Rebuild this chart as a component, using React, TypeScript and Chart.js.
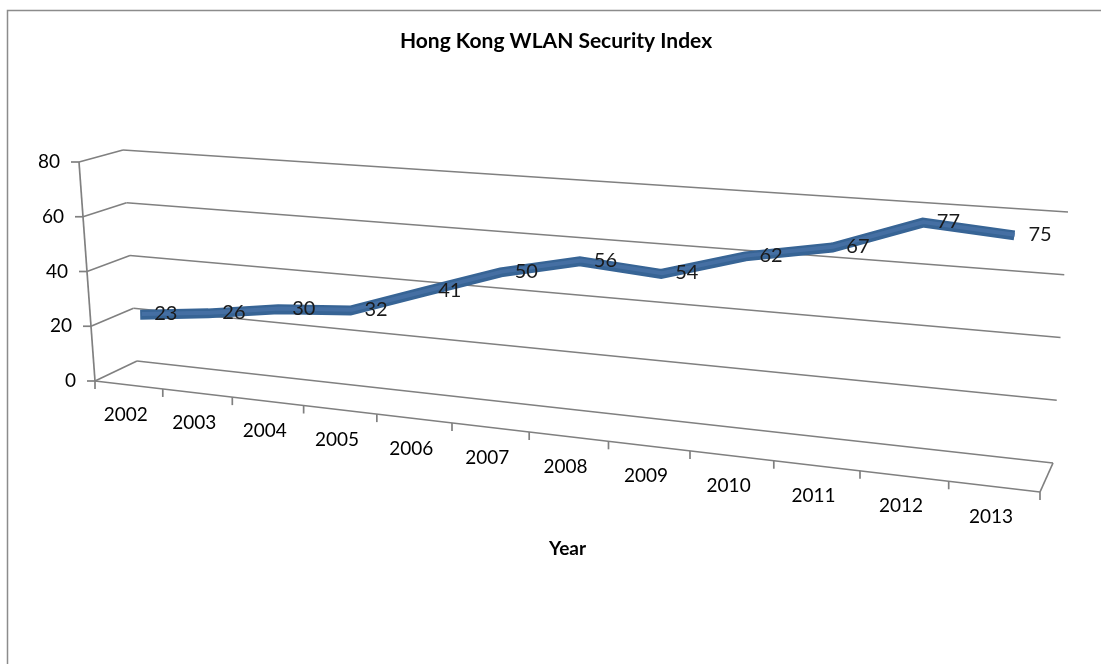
import React, { useEffect, useRef } from "react";
import { Chart, registerables } from "chart.js";

Chart.register(...registerables);

// ---- data ----
const YEARS = ["2002", "2003", "2004", "2005", "2006", "2007", "2008", "2009", "2010", "2011", "2012", "2013"];
const INDEX_VALUES = [23, 26, 30, 32, 41, 50, 56, 54, 62, 67, 77, 75];
const Y_TICKS = [0, 20, 40, 60, 80];
const TITLE = "Hong Kong WLAN Security Index";
const X_TITLE = "Year";

// ---- 3D box geometry (screen layout of the Excel-style 3D frame) ----
type Pt = [number, number];
const FRONT = { bl: [95, 381] as Pt, tl: [79, 162] as Pt, br: [1040, 492] as Pt, tr: [1059, 229] as Pt };
const BACK = { bl: [137, 361] as Pt, tl: [123, 150] as Pt, br: [1053, 463] as Pt, tr: [1068, 212] as Pt };
const FORESHORTEN = 0.85;
const GRID_COLOR = "#808080";
const FONT = "Lato, 'Open Sans', sans-serif";

const lerp2 = (a: Pt, b: Pt, t: number): Pt => [a[0] + (b[0] - a[0]) * t, a[1] + (b[1] - a[1]) * t];
const planePoint = (p: typeof FRONT, u: number, v: number): Pt => lerp2(lerp2(p.bl, p.br, u), lerp2(p.tl, p.tr, u), v);
const project = (u: number, v: number, d: number): Pt => {
  const w = (FORESHORTEN * u) / (1 - (1 - FORESHORTEN) * u);
  return lerp2(planePoint(FRONT, w, v), planePoint(BACK, w, v), d);
};

const box3d = {
  id: "box3d",
  afterDatasetsUpdate(chart: any) {
    const a = chart.chartArea;
    chart.data.datasets.forEach((ds: any, i: number) => {
      const meta = chart.getDatasetMeta(i);
      const depth = ds.depth ?? 0.4;
      meta.data.forEach((pt: any) => {
        const u = (pt.x - a.left) / (a.right - a.left);
        const v = (a.bottom - pt.y) / (a.bottom - a.top);
        const [x, y] = project(u, v, depth);
        pt.x = x;
        pt.y = y;
      });
    });
  },
  beforeDatasetsDraw(chart: any) {
    const ctx = chart.ctx as CanvasRenderingContext2D;
    const a = chart.chartArea;
    const xs = chart.scales.x;
    const ys = chart.scales.y;
    const vOf = (val: number) => (a.bottom - ys.getPixelForValue(val)) / (a.bottom - a.top);
    const uOf = (px: number) => (px - a.left) / (a.right - a.left);
    const seg = (p: Pt, q: Pt) => {
      ctx.beginPath();
      ctx.moveTo(p[0], p[1]);
      ctx.lineTo(q[0], q[1]);
      ctx.stroke();
    };
    ctx.save();
    ctx.strokeStyle = GRID_COLOR;
    ctx.lineWidth = 1.7;
    Y_TICKS.forEach((t) => {
      const v = vOf(t);
      seg(project(0, v, 1), project(1, v, 1));
      seg(project(0, v, 0), project(0, v, 1));
      const f = project(0, v, 0);
      seg([f[0] - 8, f[1]], f);
    });
    seg(project(0, 0, 0), project(0, 1, 0));
    seg(project(0, 0, 0), project(1, 0, 0));
    seg(project(1, 0, 0), project(1, 0, 1));
    for (let k = 0; k <= YEARS.length; k++) {
      const p = project(uOf(xs.getPixelForValue(k - 0.5)), 0, 0);
      seg(p, [p[0], p[1] + 8]);
    }
    ctx.fillStyle = "#000";
    ctx.font = `19px ${FONT}`;
    ctx.textAlign = "right";
    ctx.textBaseline = "middle";
    Y_TICKS.forEach((t) => {
      const f = project(0, vOf(t), 0);
      ctx.fillText(String(t), f[0] - 19, f[1]);
    });
    ctx.textAlign = "center";
    YEARS.forEach((lab, i) => {
      const p = project(uOf(xs.getPixelForValue(i)), 0, 0);
      ctx.fillText(lab, p[0] - 3, p[1] + 30);
    });
    const mid = lerp2(project(0, 0, 0), project(1, 0, 0), 0.5);
    ctx.font = `bold 19px ${FONT}`;
    ctx.fillText(X_TITLE, mid[0], mid[1] + 112);
    ctx.restore();
  },
  afterDatasetsDraw(chart: any) {
    const ctx = chart.ctx as CanvasRenderingContext2D;
    const meta = chart.getDatasetMeta(0);
    const values = chart.data.datasets[0].data as number[];
    ctx.save();
    ctx.fillStyle = "#1a1a1a";
    ctx.font = `20px ${FONT}`;
    ctx.textAlign = "left";
    ctx.textBaseline = "middle";
    meta.data.forEach((pt: any, i: number) => {
      ctx.fillText(String(values[i]), pt.x + 14, pt.y - 1);
    });
    ctx.restore();
  },
  afterDraw(chart: any) {
    const ctx = chart.ctx as CanvasRenderingContext2D;
    ctx.save();
    ctx.strokeStyle = "#8c8c8c";
    ctx.lineWidth = 1.5;
    ctx.beginPath();
    ctx.moveTo(7.5, chart.height);
    ctx.lineTo(7.5, 10.5);
    ctx.lineTo(chart.width, 10.5);
    ctx.stroke();
    ctx.restore();
  },
};

export default function App() {
  const canvasRef = useRef<HTMLCanvasElement | null>(null);

  useEffect(() => {
    if (!canvasRef.current) return;
    const chart = new Chart(canvasRef.current, {
      type: "line",
      data: {
        labels: YEARS,
        datasets: [
          {
            label: "Security Index",
            data: INDEX_VALUES,
            depth: 0.38,
            borderColor: "#376495",
            borderWidth: 10,
            borderJoinStyle: "miter",
            borderCapStyle: "butt",
            pointRadius: 0,
            pointHoverRadius: 0,
            tension: 0,
            fill: false,
            clip: false,
            order: 2,
          } as any,
          {
            label: "highlight",
            data: INDEX_VALUES,
            depth: 0.42,
            borderColor: "rgba(72,114,166,0.8)",
            borderWidth: 4,
            borderJoinStyle: "miter",
            borderCapStyle: "butt",
            pointRadius: 0,
            pointHoverRadius: 0,
            tension: 0,
            fill: false,
            clip: false,
            order: 1,
          } as any,
        ],
      },
      options: {
        animation: false,
        responsive: false,
        events: [],
        layout: { padding: { left: 11 } },
        scales: {
          x: { type: "category", offset: true, display: false },
          y: { min: 0, max: 80, display: false },
        },
        plugins: {
          legend: { display: false },
          tooltip: { enabled: false },
          title: {
            display: true,
            text: TITLE,
            color: "#000",
            font: { family: FONT, size: 21, weight: "bold" },
            padding: { top: 29, bottom: 0 },
          },
        },
      },
      plugins: [box3d],
    });
    return () => chart.destroy();
  }, []);

  return (
    <div style={{ position: "fixed", left: 0, top: 0, width: 1101, height: 664, background: "#fff" }}>
      <canvas ref={canvasRef} width={1101} height={664} style={{ display: "block" }} />
    </div>
  );
}
